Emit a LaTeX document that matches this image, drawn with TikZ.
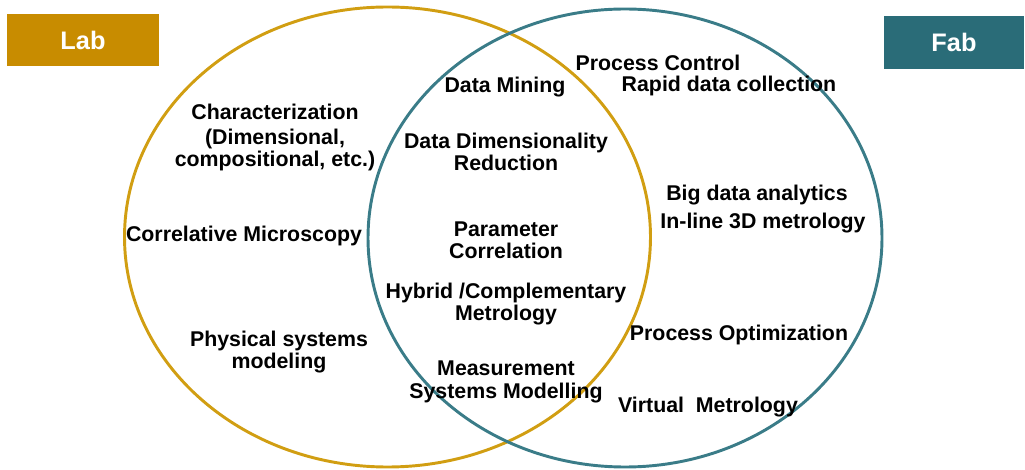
\documentclass[tikz,border=0pt]{standalone}
\usepackage{fontspec}
\setmainfont{Liberation Sans}
\usetikzlibrary{shapes.geometric}
\definecolor{labgold}{HTML}{C88C00}
\definecolor{fabteal}{HTML}{2A6C78}
\definecolor{labline}{HTML}{D19E12}
\definecolor{fabline}{HTML}{3A7C88}
\tikzset{
  lbl/.style={font=\bfseries\fontsize{16pt}{16.8pt}\selectfont, align=center, inner sep=0pt, text=black, yshift=-1.5pt},
  tag/.style={font=\bfseries\fontsize{19pt}{19pt}\selectfont, text=white, inner sep=0pt},
  venn/.style={ellipse, draw, line width=2.2pt, inner sep=0pt}
}
\begin{document}
\begin{tikzpicture}[x=0.75pt,y=-0.75pt]
\useasboundingbox (0,0) rectangle (1025,470);
% sets
\node[venn, draw=labline, minimum width=394.5pt, minimum height=345pt] (lab) at (387.5,237) {};
\node[venn, draw=fabline, minimum width=385.5pt, minimum height=343.5pt] (fab) at (625,238) {};
% tags
\node[tag, fill=labgold, minimum width=114pt, minimum height=39pt] (labtag) at (83,40) {Lab};
\node[tag, fill=fabteal, minimum width=105pt, minimum height=40pt] (fabtag) at (954,42.5) {Fab};
% lab texts
\node[lbl] (char) at (275,110) {Characterization};
\node[lbl] (dim) at (275,148) {(Dimensional,\\compositional, etc.)};
\node[lbl] (corr) at (244,234) {Correlative Microscopy};
\node[lbl] (phys) at (279,350) {Physical systems\\modeling};
% intersection texts
\node[lbl] (mining) at (505,85) {Data Mining};
\node[lbl] (reduct) at (506,150) {Data Dimensionality\\Reduction};
\node[lbl] (param) at (506,238) {Parameter\\Correlation};
\node[lbl] (hybrid) at (506,302) {Hybrid /Complementary\\Metrology};
\node[lbl] (meas) at (506,380) {Measurement\\Systems Modelling};
% fab texts
\node[lbl] (pctrl) at (658,61) {Process Control};
\node[lbl] (rapid) at (729,84) {Rapid data collection};
\node[lbl] (big) at (757,193) {Big data analytics};
\node[lbl] (inline) at (763,221) {In-line 3D metrology};
\node[lbl] (popt) at (739,333) {Process Optimization};
\node[lbl] (virt) at (708,405) {Virtual\ \ Metrology};
\end{tikzpicture}
\end{document}
